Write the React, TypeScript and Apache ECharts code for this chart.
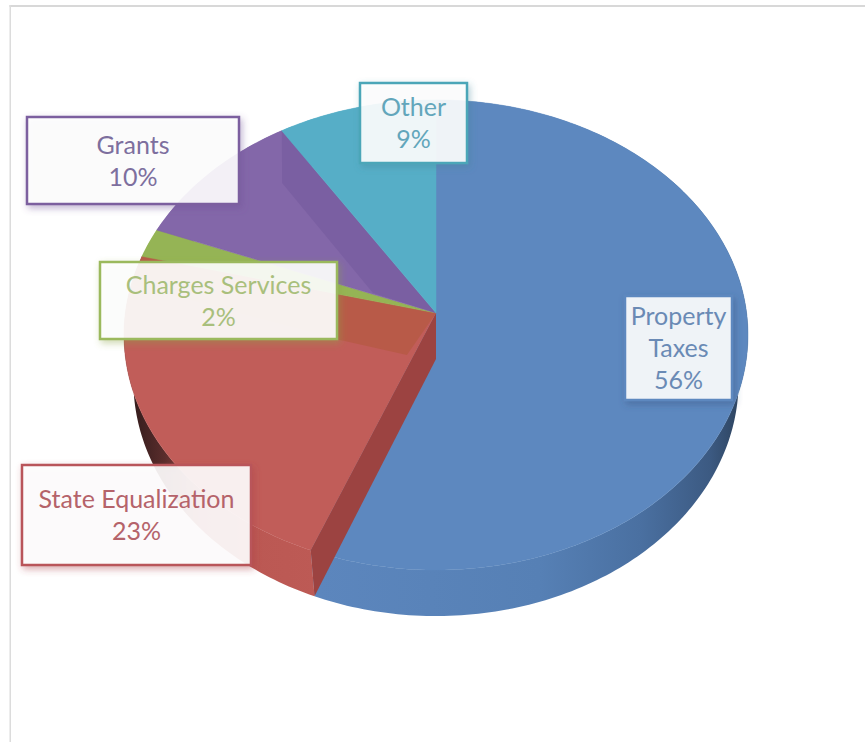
import React, { useEffect, useRef } from "react";
import * as echarts from "echarts";

// Revenue shares, clockwise from twelve o'clock
const categories = ["Property Taxes", "State Equalization", "Charges Services", "Grants", "Other"];
const shares = [56, 23, 2, 10, 9];

const faceColors = ["#5d88bf", "#c15d59", "#95b455", "#8367a9", "#56aec7"];
const borderColors = ["#5d88bf", "#b9555a", "#9bb95d", "#7c5f9f", "#4ba6b8"];
const textColors = ["#6a8ab5", "#b5636a", "#a9bf7c", "#7d6f9e", "#62a6bb"];
const shadowColors = [
  "rgba(50,80,125,0.45)",
  "rgba(170,60,70,0.45)",
  "rgba(140,165,70,0.45)",
  "rgba(110,80,150,0.45)",
  "rgba(60,130,150,0.4)",
];

// Callout boxes: x, y, width, height, wrap the name onto two lines
const calloutBoxes: [number, number, number, number, boolean][] = [
  [625, 296, 107, 104, true],
  [22, 465, 229, 100, false],
  [100, 262, 237, 77, false],
  [27, 117, 212, 87, false],
  [360, 83, 107, 80, false],
];

// Horizontal shading of the outer rim: [x, colour] stops per slice
const wallStops: Record<number, [number, string][]> = {
  0: [[320, "#5c86bd"], [540, "#5680b5"], [640, "#4a70a1"], [710, "#3c5a82"], [745, "#2b4059"]],
  1: [[128, "#2e1a1a"], [165, "#5a2d2c"], [200, "#a84f4c"], [250, "#bb5853"], [320, "#bd5a55"]],
};

// Lighter/darker facets on the top face: [fraction of slice sweep, radius]
const facets: { slice: number; color: string; points: [number, number][] }[] = [
  {
    slice: 3,
    color: "#7a5fa2",
    points: [[1, 1], [0.744, 0.787], [0.036, 0.222], [0, 0]],
  },
  {
    slice: 1,
    color: "#b85a48",
    points: [[0, 0], [0.07, 0.2], [0.578, 0.326], [0.91, 0.995], [1, 1], [1, 0]],
  },
];

// Perspective projection of the pie's top disc
const CX = 436;
const CY = 313;
const RX = 310.6;
const RY = 233;
const TILT = 0.0936;
const DEPTH = 46;
const BASE_SCALE = 0.97;

const project = (deg: number, r = 1, dy = 0, sx = 1): [number, number] => {
  const t = (deg * Math.PI) / 180;
  const s = r * Math.sin(t);
  const c = r * Math.cos(t);
  const w = 1 + TILT * c;
  return [CX + (RX * sx * s) / w, CY + dy - (RY * c) / w];
};

const total = shares.reduce((a, b) => a + b, 0);
const sliceRange = (i: number): [number, number] => {
  const before = shares.slice(0, i).reduce((a, b) => a + b, 0);
  return [(before / total) * 360, ((before + shares[i]) / total) * 360];
};

const arc = (from: number, to: number, dy = 0, sx = 1): [number, number][] => {
  const n = Math.max(2, Math.ceil(Math.abs(to - from)));
  const pts: [number, number][] = [];
  for (let k = 0; k <= n; k++) pts.push(project(from + ((to - from) * k) / n, 1, dy, sx));
  return pts;
};

const renderWall = (params: any) => {
  const i = params.dataIndex;
  const [a, b] = sliceRange(i);
  const points = [...arc(a, b), ...arc(b, a, DEPTH, BASE_SCALE)];
  const stops = wallStops[i];
  let fill: any = faceColors[i];
  if (stops) {
    const x0 = stops[0][0];
    const x1 = stops[stops.length - 1][0];
    fill = new echarts.graphic.LinearGradient(
      x0, 0, x1, 0,
      stops.map(([x, color]) => ({ offset: (x - x0) / (x1 - x0), color })),
      true,
    );
  }
  return { type: "polygon", shape: { points }, style: { fill }, silent: true };
};

const renderFace = (params: any) => {
  const i = params.dataIndex;
  const [a, b] = sliceRange(i);
  const children: any[] = [
    {
      type: "polygon",
      shape: { points: [[CX, CY], ...arc(a, b)] },
      style: { fill: faceColors[i], stroke: faceColors[i], lineWidth: 0.5 },
    },
  ];
  facets
    .filter((f) => f.slice === i)
    .forEach((f) => {
      children.push({
        type: "polygon",
        shape: { points: f.points.map(([u, r]) => project(a + (b - a) * u, r)) },
        style: { fill: f.color },
      });
    });
  return { type: "group", children, silent: true };
};

// Cut face of the red slice, showing where it meets the blue one
const renderCut = (params: any) => {
  if (params.dataIndex !== 1) return { type: "group", children: [] };
  const [a] = sliceRange(1);
  return {
    type: "polygon",
    shape: {
      points: [
        [CX, CY],
        [CX, CY + DEPTH],
        project(a, 1, DEPTH, BASE_SCALE),
        project(a),
      ],
    },
    style: { fill: "#9c4341" },
    silent: true,
  };
};

const renderCallout = (params: any, api: any) => {
  const i = params.dataIndex;
  const [x, y, width, height, wrap] = calloutBoxes[i];
  const name = wrap ? categories[i].replace(" ", "\n") : categories[i];
  return {
    type: "group",
    silent: true,
    children: [
      {
        type: "rect",
        shape: { x, y, width, height },
        style: {
          fill: "rgba(255,255,255,0.89)",
          stroke: borderColors[i],
          lineWidth: 2.5,
          shadowBlur: 7,
          shadowOffsetX: 2,
          shadowOffsetY: 3,
          shadowColor: shadowColors[i],
        },
      },
      {
        type: "text",
        x: x + width / 2,
        y: y + height / 2 - 1,
        style: {
          text: `${name}\n${api.value(0)}%`,
          fill: textColors[i],
          font: '25px Lato, "Open Sans", sans-serif',
          lineHeight: 32,
          align: "center",
          verticalAlign: "middle",
        },
      },
    ],
  };
};

const App = () => {
  const ref = useRef<HTMLDivElement>(null);

  useEffect(() => {
    document.body.style.margin = "0";
    const chart = echarts.init(ref.current!, undefined, { renderer: "svg" });
    const layer = (renderItem: any, z: number) => ({
      type: "custom",
      coordinateSystem: "none",
      renderItem,
      data: shares,
      z,
      silent: true,
    });
    chart.setOption({
      animation: false,
      backgroundColor: "#ffffff",
      tooltip: { show: false },
      graphic: [
        {
          type: "rect",
          shape: { x: 9.5, y: 5, width: 856, height: 2 },
          style: { fill: "#d8d8d8" },
          silent: true,
        },
        {
          type: "rect",
          shape: { x: 9.5, y: 5, width: 1.5, height: 737 },
          style: { fill: "#dcdcdc" },
          silent: true,
        },
      ],
      series: [
        layer(renderWall, 1),
        layer(renderFace, 2),
        layer(renderCut, 3),
        layer(renderCallout, 4),
      ],
    });
    return () => chart.dispose();
  }, []);

  return (
    <div
      ref={ref}
      style={{ position: "absolute", left: 0, top: 0, width: 865, height: 742 }}
    />
  );
};

export default App;
